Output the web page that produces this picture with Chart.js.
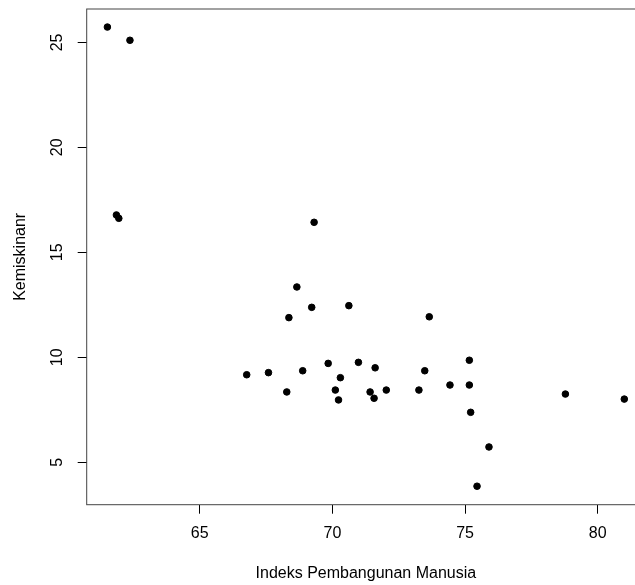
<!DOCTYPE html>
<html>
<head>
<meta charset="utf-8">
<script src="https://cdn.jsdelivr.net/npm/chart.js@4"></script>
<style>
  html, body { margin: 0; padding: 0; background: #fff; overflow: hidden; }
  #wrap { width: 680px; height: 585px; }
</style>
</head>
<body>
<div id="wrap"><canvas id="myChart"></canvas></div>
<script>
// Indeks Pembangunan Manusia (x) vs Kemiskinan (y)
const ipm = [61.52, 62.37, 61.86, 61.95, 69.31, 68.66, 69.22, 68.36, 66.77, 67.59, 68.88,
  68.28, 70.62, 73.65, 69.84, 70.98, 71.61, 73.48, 75.16, 70.30, 70.11, 70.23,
  71.42, 71.57, 72.03, 73.26, 74.43, 75.16, 75.21, 78.78, 81.00, 75.90, 75.45];
const kemiskinan = [25.73, 25.10, 16.78, 16.62, 16.43, 13.35, 12.38, 11.89, 9.17, 9.27, 9.36,
  8.35, 12.46, 11.93, 9.71, 9.76, 9.50, 9.36, 9.86, 9.03, 8.44, 7.97,
  8.35, 8.05, 8.44, 8.44, 8.68, 8.68, 7.38, 8.25, 8.01, 5.73, 3.86];
const xTicks = [65, 70, 75, 80];
const yTicks = [5, 10, 15, 20, 25];

const points = ipm.map((v, i) => ({ x: v, y: kemiskinan[i] }));
const font = { family: "'Liberation Sans', Arial, sans-serif", size: 16 };

// R style box around the plot region
const boxPlugin = {
  id: 'box',
  beforeDatasetsDraw(chart) {
    const a = chart.chartArea;
    const c = chart.ctx;
    c.save();
    c.strokeStyle = '#444';
    c.lineWidth = 1;
    c.strokeRect(a.left, a.top, a.right - a.left, a.bottom - a.top);
    c.restore();
  }
};

const ctx = document.getElementById('myChart');

new Chart(ctx, {
  type: 'scatter',
  data: {
    datasets: [{
      data: points,
      backgroundColor: '#000',
      borderColor: '#000',
      borderWidth: 1,
      pointRadius: 3.3
    }]
  },
  options: {
    responsive: true,
    maintainAspectRatio: false,
    animation: false,
    layout: { padding: { top: 9, right: 35, bottom: 0, left: 0 } },
    plugins: { legend: { display: false }, tooltip: { enabled: false } },
    scales: {
      x: {
        type: 'linear',
        min: 60.74,
        max: 81.78,
        afterBuildTicks: s => { s.ticks = xTicks.map(v => ({ value: v })); },
        ticks: { font: font, color: '#000', padding: 10 },
        grid: { drawOnChartArea: false, tickLength: 9, tickColor: '#000', color: '#000' },
        border: { display: false },
        title: { display: true, text: 'Indeks Pembangunan Manusia', font: font, color: '#000', padding: { top: 0, bottom: 2 } },
        afterFit: s => { s.height = 80.3; s.paddingLeft = 0; s.paddingRight = 0; }
      },
      y: {
        type: 'linear',
        min: 2.98,
        max: 26.59,
        afterBuildTicks: s => { s.ticks = yTicks.map(v => ({ value: v })); },
        ticks: { font: font, color: '#000', padding: 11, minRotation: 90, maxRotation: 90, crossAlign: 'center' },
        grid: { drawOnChartArea: false, tickLength: 9, tickColor: '#000', color: '#000' },
        border: { display: false },
        title: { display: true, text: 'Kemiskinanr', font: font, color: '#000', padding: { top: 11, bottom: 0 } },
        afterFit: s => { s.width = 86.7; s.paddingTop = 0; s.paddingBottom = 0; }
      }
    }
  },
  plugins: [boxPlugin]
});
</script>
</body>
</html>
